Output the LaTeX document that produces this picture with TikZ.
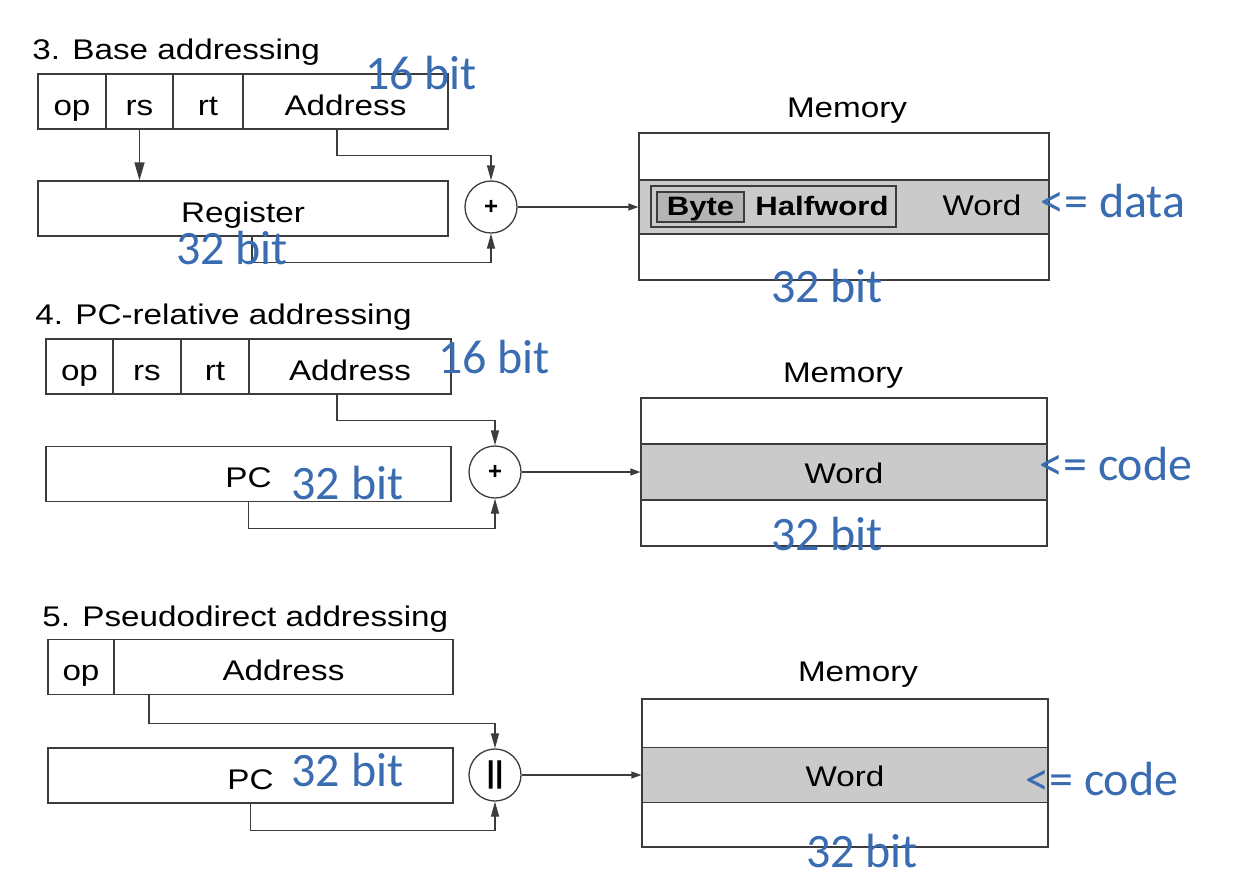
\documentclass[tikz,border=0pt]{standalone}
\usepackage{graphicx}
\usepackage{fontspec}
\setmainfont{Liberation Sans}
\newfontfamily\bluefont{Carlito}
\usetikzlibrary{arrows.meta}
\definecolor{bitblue}{RGB}{58,108,178}
\definecolor{linegray}{RGB}{60,60,60}
\definecolor{bandgray}{RGB}{202,202,202}
\definecolor{bytegray}{RGB}{180,180,180}
\newcommand{\wide}[1]{\scalebox{1.17}[1]{#1}}
\begin{document}
\begin{tikzpicture}[x=0.5pt,y=-0.5pt,
  lbl/.style={inner sep=0pt,font=\fontsize{14.2}{17}\selectfont},
  title/.style={lbl,anchor=base west},
  field/.style={lbl,draw=linegray,line width=0.65pt,minimum height=27.5pt,text height=13.5pt,text depth=0pt},
  memory/.style={draw=linegray,line width=0.65pt,inner sep=0pt,fill=white},
  band/.style={lbl,draw=linegray,line width=0.65pt,fill=bandgray,text height=11pt,text depth=0pt},
  op/.style={draw=linegray,line width=0.65pt,circle,fill=white,minimum size=26pt,inner sep=0pt,font=\fontsize{12}{14}\selectfont\bfseries},
  arr/.style={draw=linegray,line width=0.65pt,-{Triangle[length=7.5pt,width=4pt]}},
  arrs/.style={draw=linegray,line width=0.65pt,-{Triangle[length=5pt,width=3.5pt]}},
  bit/.style={inner sep=0pt,anchor=base,text=bitblue,font=\bluefont\fontsize{24}{28}\selectfont}]
\useasboundingbox[fill=white] (0,0) rectangle (1246,890);

% 3. Base addressing
\node[title] (t3) at (32,59) {\wide{3. Base addressing}};
\node[field,minimum width=34pt] (op3) at (72,101.5) {\wide{op}};
\node[field,minimum width=33.5pt] (rs3) at (139.5,101.5) {\wide{rs}};
\node[field,minimum width=35pt] (rt3) at (208,101.5) {\wide{rt}};
\node[field,minimum width=102.5pt] (addr3) at (345.5,101.5) {\wide{Address}};
\node[field,minimum width=205pt] (reg3) at (243,208.5) {\wide{Register}\hspace{8pt}};
\node[op] (add3) at (491,207) {+};
\node[memory,minimum width=205pt,minimum height=73.5pt] (mem3) at (844,206.5) {};
\node[band,minimum width=205pt,minimum height=27pt] (band3) at (844,207) {};
\node[draw=linegray,line width=0.65pt,fill=bandgray,minimum width=122.5pt,minimum height=20.5pt,inner sep=0pt] (hw3) at (773.5,206.5) {};
\node[draw=linegray,line width=0.65pt,fill=bytegray,minimum width=43.5pt,minimum height=15pt,inner sep=0pt,
      font=\fontsize{13.3}{16}\selectfont\bfseries,text height=8pt,text depth=0pt] (byte3) at (700.5,207) {\wide{Byte}};
\node[lbl,anchor=base,font=\fontsize{13.3}{16}\selectfont\bfseries] (half3) at (822,215) {\wide{Halfword}};
\node[lbl,anchor=base] (word3) at (982,215) {\wide{Word}};
\node[lbl,anchor=base] (m3) at (847,117) {\wide{Memory}};
\draw[arr,-{Triangle[length=9pt,width=5pt]}] (rs3.south) -- (rs3.south |- reg3.north);
\draw[arr] ([xshift=-4.25pt]addr3.south) -- ++(0,26) -| (add3.north);
\draw[arr] ([xshift=4.5pt]reg3.south) -- ++(0,26) -| (add3.south);
\draw[arrs] (add3.east) -- (band3.west);

% 4. PC-relative addressing
\node[title] (t4) at (35,324) {\wide{4. PC-relative addressing}};
\node[field,minimum width=33.5pt] (op4) at (79.5,366.5) {\wide{op}};
\node[field,minimum width=34pt] (rs4) at (147,366.5) {\wide{rs}};
\node[field,minimum width=34pt] (rt4) at (215,366.5) {\wide{rt}};
\node[field,minimum width=101pt] (addr4) at (350,366.5) {\wide{Address}};
\node[field,minimum width=202.5pt] (pc4) at (248.5,474) {\wide{PC}};
\node[op] (add4) at (495,472) {+};
\node[memory,minimum width=203pt,minimum height=74pt] (mem4) at (844,472) {};
\node[band,minimum width=203pt,minimum height=28pt] (band4) at (844,472) {\wide{Word}};
\node[lbl,anchor=base] (m4) at (843,382) {\wide{Memory}};
\draw[arr] ([xshift=-6.5pt]addr4.south) -- ++(0,26) -| (add4.north);
\draw[arr] (pc4.south) -- ++(0,26) -| (add4.south);
\draw[arrs] (add4.east) -- (band4.west);

% 5. Pseudodirect addressing
\node[title] (t5) at (42,626) {\wide{5. Pseudodirect addressing}};
\node[field,minimum width=33pt] (op5) at (81,667) {\wide{op}};
\node[field,minimum width=169.5pt] (addr5) at (283.5,667) {\wide{Address}\hspace{10pt}};
\node[field,minimum width=202.5pt] (pc5) at (250.5,775.5) {\wide{PC}};
\node[op,font=\fontsize{15}{17}\selectfont\bfseries] (cat5) at (495,775) {||};
\node[memory,minimum width=203pt,minimum height=74pt] (mem5) at (845,773) {};
\node[band,minimum width=203pt,minimum height=27.5pt] (band5) at (845,775) {\wide{Word}};
\node[lbl,anchor=base] (m5) at (858,681) {\wide{Memory}};
\draw[arr] ([xshift=-67.25pt]addr5.south) -- ++(0,28) -| (cat5.north);
\draw[arr] (pc5.south) -- ++(0,27) -| (cat5.south);
\draw[arrs] (cat5.east) -- (band5.west);

% bit widths
\node[bit] (b16a) at (421,89) {16 bit};
\node[bit] (b32a) at (232,264) {32 bit};
\node[bit] (m32a) at (827,302) {32 bit};
\node[bit,anchor=base west] (data3) at (1040,217) {<= data};
\node[bit] (b16b) at (494,373) {16 bit};
\node[bit] (b32b) at (347.5,499) {32 bit};
\node[bit] (m32b) at (827,550) {32 bit};
\node[bit,anchor=base west] (code4) at (1039,480) {<= code};
\node[bit] (b32c) at (347.5,786) {32 bit};
\node[bit] (m32c) at (862,867) {32 bit};
\node[bit,anchor=base west] (code5) at (1025,795) {<= code};
\end{tikzpicture}
\end{document}
